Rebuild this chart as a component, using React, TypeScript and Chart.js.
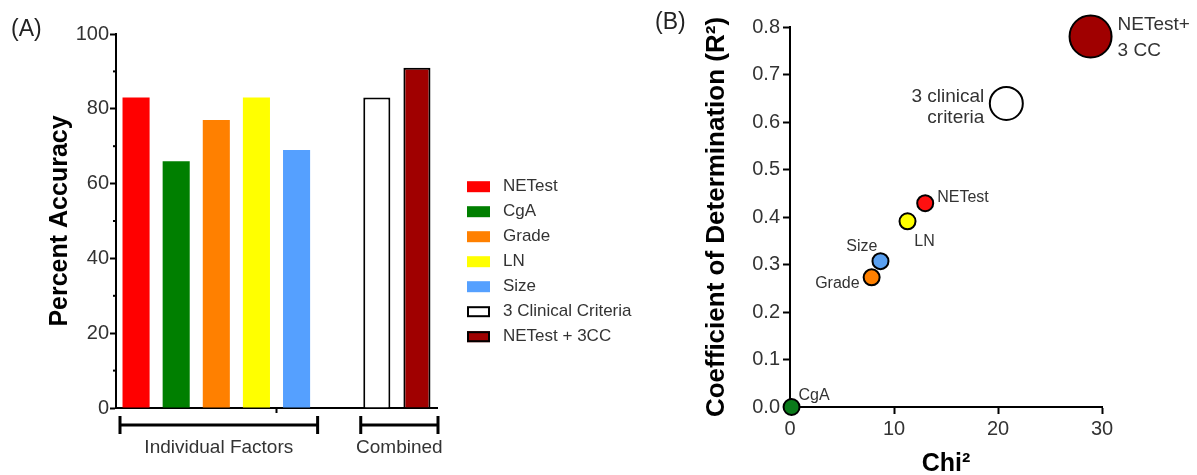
import React, { useEffect, useRef } from "react";
import { Chart, registerables } from "chart.js";

Chart.register(...registerables);

const FONT = "'Liberation Sans', Arial, Helvetica, sans-serif";

// ---------- Panel A data ----------
const BAR_CATEGORIES = ["NETest", "CgA", "Grade", "LN", "Size", "", "3 Clinical Criteria", "NETest + 3CC"];
const BAR_VALUES = [83, 66, 77, 83, 69, null, 83, 91];
const BAR_COLORS = ["#ff0000", "#007f00", "#ff8000", "#ffff00", "#55a0ff", "rgba(0,0,0,0)", "#ffffff", "#a00000"];
const Y_TICK_LABELS_A = [0, 20, 40, 60, 80, 100];
const GROUP_NAMES = ["Individual Factors", "Combined"];
const GROUP_FIRST = [0, 6];
const GROUP_LAST = [4, 7];

// ---------- Panel B data ----------
const POINT_NAMES = ["NETest", "CgA", "Grade", "LN", "Size", "3 clinical\ncriteria", "NETest+\n3 CC"];
const CHI2 = [13.0, 0.15, 7.85, 11.3, 8.7, 20.8, 28.9];
const R2 = [0.429, 0.0, 0.273, 0.391, 0.307, 0.639, 0.78];
const POINT_COLORS = ["#ff1010", "#0a7a1a", "#ff8000", "#ffff00", "#5aa0f0", "#ffffff", "#a00000"];

export default function App() {
  const refA = useRef<HTMLCanvasElement>(null);
  const refB = useRef<HTMLCanvasElement>(null);

  useEffect(() => {
    // ----- Panel A -----
    const panelAPlugin = {
      id: "panelAExtras",
      afterDraw(chart: any) {
        const { ctx, chartArea, scales } = chart;
        const xs = scales.x;
        const ys = scales.y;
        const half = (xs.getPixelForValue(1) - xs.getPixelForValue(0)) / 2;
        ctx.save();
        ctx.strokeStyle = "#000";
        ctx.lineWidth = 2;
        // minor ticks (shorter)
        ys.ticks.forEach((t: any) => {
          if (Y_TICK_LABELS_A.includes(Number(t.value))) return;
          const py = ys.getPixelForValue(t.value);
          ctx.beginPath();
          ctx.moveTo(chartArea.left - 3, py);
          ctx.lineTo(chartArea.left, py);
          ctx.stroke();
        });
        const cx = (chartArea.left + chartArea.right) / 2;
        ctx.beginPath();
        ctx.moveTo(cx, chartArea.bottom);
        ctx.lineTo(cx, chartArea.bottom + 5);
        ctx.stroke();

        const by = chartArea.bottom + 17;
        for (let i = 0; i < GROUP_NAMES.length; i++) {
          const x0 = xs.getPixelForValue(GROUP_FIRST[i]) - half + 4;
          const x1 = xs.getPixelForValue(GROUP_LAST[i]) + half + 1;
          ctx.lineWidth = 3;
          ctx.strokeStyle = "#000";
          ctx.beginPath();
          ctx.moveTo(x0, by);
          ctx.lineTo(x1, by);
          ctx.moveTo(x0, by - 9);
          ctx.lineTo(x0, by + 9);
          ctx.moveTo(x1, by - 9);
          ctx.lineTo(x1, by + 9);
          ctx.stroke();
          ctx.fillStyle = "#333";
          ctx.font = `19px ${FONT}`;
          ctx.textAlign = "center";
          ctx.textBaseline = "middle";
          ctx.fillText(GROUP_NAMES[i], (x0 + x1) / 2, chartArea.bottom + 40);
        }

        // legend
        const lx = chartArea.right + 30;
        let ly = chartArea.top + 152.7;
        ctx.font = `17px ${FONT}`;
        ctx.textAlign = "left";
        ctx.textBaseline = "middle";
        BAR_CATEGORIES.forEach((name, i) => {
          if (!name) return;
          const outlined = i >= 6;
          ctx.fillStyle = BAR_COLORS[i];
          ctx.fillRect(lx, ly - 5.5, 23, 11);
          if (outlined) {
            ctx.lineWidth = 2;
            ctx.strokeStyle = "#000";
            ctx.strokeRect(lx + 1, ly - 4.5, 21, 9);
          }
          ctx.fillStyle = "#333";
          ctx.fillText(name, lx + 36, ly);
          ly += 25;
        });

        ctx.fillStyle = "#222";
        ctx.font = `23px ${FONT}`;
        ctx.textAlign = "left";
        ctx.fillText("(A)", 11, 30);
        ctx.restore();
      },
    };

    const chartA = new Chart(refA.current!, {
      type: "bar",
      data: {
        labels: BAR_CATEGORIES,
        datasets: [
          {
            data: BAR_VALUES as any,
            backgroundColor: BAR_COLORS,
            borderColor: "#000",
            borderWidth: BAR_CATEGORIES.map((_, i) => (i >= 6 ? 2 : 0)),
            barPercentage: 0.675,
            categoryPercentage: 1,
          },
        ],
      },
      options: {
        responsive: false,
        animation: false,
        events: [],
        layout: { padding: { left: 0, right: 203, top: 34, bottom: 0 } },
        plugins: { legend: { display: false }, tooltip: { enabled: false } },
        scales: {
          x: {
            ticks: { display: false },
            grid: { display: false },
            border: { display: true, color: "#000", width: 2 },
            afterFit: (s: any) => {
              s.height = 67;
            },
          },
          y: {
            min: 0,
            max: 100,
            ticks: {
              stepSize: 10,
              autoSkip: false,
              padding: 1,
              color: "#333",
              font: { family: FONT, size: 20 },
              callback: (v: any) => (Y_TICK_LABELS_A.includes(Number(v)) ? String(v) : ""),
            },
            grid: {
              drawOnChartArea: false,
              tickLength: 6,
              tickWidth: 2,
              color: "#000",
              tickColor: (c: any) =>
                c.tick && Y_TICK_LABELS_A.includes(Number(c.tick.value)) ? "#000" : "rgba(0,0,0,0)",
            },
            border: { display: true, color: "#000", width: 2 },
            title: {
              display: true,
              text: "Percent Accuracy",
              color: "#000",
              font: { family: FONT, size: 25, weight: "bold" },
              padding: { top: 45, bottom: 0 },
            },
            afterFit: (s: any) => {
              s.width = 116;
            },
          },
        },
      },
      plugins: [panelAPlugin],
    });

    // ----- Panel B -----
    const labelStyle = [
      { dx: 12, dy: -6, align: "left", size: 16, lh: 18 },
      { dx: 7, dy: -11, align: "left", size: 16, lh: 18 },
      { dx: -12, dy: 6, align: "right", size: 16, lh: 18 },
      { dx: 17, dy: 20, align: "center", size: 16, lh: 18 },
      { dx: -3, dy: -15, align: "right", size: 16, lh: 18 },
      { dx: -22, dy: -7, align: "right", size: 19, lh: 21 },
      { dx: 27, dy: -12, align: "left", size: 19, lh: 26 },
    ];
    const panelBPlugin = {
      id: "panelBExtras",
      afterDraw(chart: any) {
        const { ctx } = chart;
        const meta = chart.getDatasetMeta(0);
        ctx.save();
        ctx.fillStyle = "#333";
        ctx.textBaseline = "middle";
        meta.data.forEach((el: any, i: number) => {
          const st = labelStyle[i];
          ctx.font = `${st.size}px ${FONT}`;
          ctx.textAlign = st.align;
          POINT_NAMES[i].split("\n").forEach((line, j) => {
            ctx.fillText(line, el.x + st.dx, el.y + st.dy + j * st.lh);
          });
        });
        ctx.fillStyle = "#222";
        ctx.font = `23px ${FONT}`;
        ctx.textAlign = "left";
        ctx.fillText("(B)", 15, 23);
        ctx.restore();
      },
    };

    const chartB = new Chart(refB.current!, {
      type: "scatter",
      data: {
        datasets: [
          {
            data: CHI2.map((x, i) => ({ x, y: R2[i] })),
            pointRadius: [8, 8, 8, 8, 8, 16.5, 21],
            pointHoverRadius: [8, 8, 8, 8, 8, 16.5, 21],
            pointBackgroundColor: POINT_COLORS,
            pointBorderColor: "#000",
            pointBorderWidth: 2,
            clip: false as any,
          },
        ],
      },
      options: {
        responsive: false,
        animation: false,
        events: [],
        layout: { padding: { left: 0, right: 95, top: 27, bottom: 0 } },
        plugins: { legend: { display: false }, tooltip: { enabled: false } },
        scales: {
          x: {
            type: "linear",
            min: 0,
            max: 30,
            ticks: {
              stepSize: 10,
              padding: 3,
              color: "#333",
              font: { family: FONT, size: 20 },
            },
            grid: { drawOnChartArea: false, tickLength: 7, color: "#000", tickWidth: 2 },
            border: { display: true, color: "#000", width: 2 },
            title: {
              display: true,
              text: "Chi²",
              color: "#000",
              font: { family: FONT, size: 25, weight: "bold", lineHeight: 1 },
              padding: { top: 0, bottom: -2 },
            },
            afterFit: (s: any) => {
              s.height = 68;
            },
          },
          y: {
            min: 0,
            max: 0.8,
            ticks: {
              stepSize: 0.1,
              autoSkip: false,
              padding: 3,
              color: "#333",
              font: { family: FONT, size: 20 },
              callback: (v: any) => Number(v).toFixed(1),
            },
            grid: { drawOnChartArea: false, tickLength: 7, color: "#000", tickWidth: 2 },
            border: { display: true, color: "#000", width: 2 },
            title: {
              display: true,
              text: "Coefficient of Determination (R²)",
              color: "#000",
              font: { family: FONT, size: 26, weight: "bold" },
              padding: { top: 61, bottom: 0 },
            },
            afterFit: (s: any) => {
              s.width = 150;
            },
          },
        },
      },
      plugins: [panelBPlugin],
    });

    return () => {
      chartA.destroy();
      chartB.destroy();
    };
  }, []);

  return (
    <div style={{ position: "absolute", left: 0, top: 0, width: 1197, height: 475, background: "#fff", overflow: "hidden" }}>
      <canvas ref={refA} width={640} height={475} style={{ position: "absolute", left: 0, top: 0, display: "block" }} />
      <canvas ref={refB} width={557} height={475} style={{ position: "absolute", left: 640, top: 0, display: "block" }} />
    </div>
  );
}
